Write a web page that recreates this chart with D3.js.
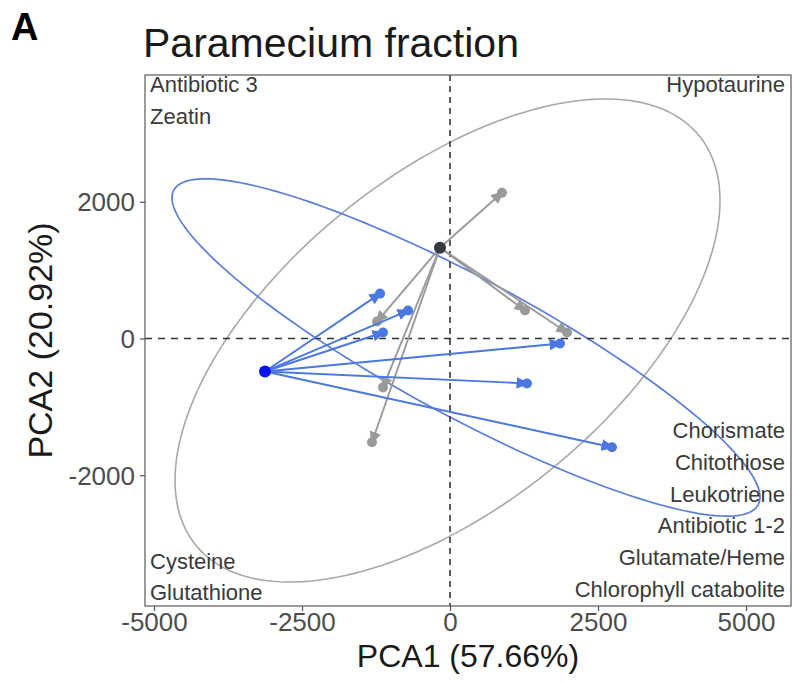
<!DOCTYPE html>
<html>
<head>
<meta charset="utf-8">
<script src="https://cdn.jsdelivr.net/npm/d3@7"></script>
<style>
  body { margin: 0; background: #fff; }
  svg { display: block; font-family: "Liberation Sans", Arial, sans-serif; }
</style>
</head>
<body>
<svg id="chart" width="792" height="682"></svg>
<script>
// ---- data ----
const xTicks = [-5000, -2500, 0, 2500, 5000];
const yTicks = [-2000, 0, 2000];

// arrow origins (group centroids) and arrow tips
const grayOrigin = { x: -169, y: 1328 };
const grayTips = [
  { x: 878,   y: 2131 },
  { x: 1267,  y: 409 },
  { x: 1976,  y: 88 },
  { x: -1233, y: 248 },
  { x: -1132, y: -715 },
  { x: -1318, y: -1518 }
];
const blueOrigin = { x: -3125, y: -482 };
const blueTips = [
  { x: -1182, y: 657 },
  { x: -709,  y: 409 },
  { x: -1132, y: 88 },
  { x: 1858,  y: -73 },
  { x: 1300,  y: -657 },
  { x: 2736,  y: -1591 }
];

// confidence ellipses: centre, x half-range, y half-range, phase (deg)
const grayEllipse = { cx: -42, cy: -29, rx: 4603, ry: 3533, phase: 54.6 };
const blueEllipse = { cx: 270, cy: -131, rx: 4966, ry: 2467, phase: 152.5 };

// corner annotations
const labelsTopLeft     = ['Antibiotic 3', 'Zeatin'];
const labelsTopRight    = ['Hypotaurine'];
const labelsBottomLeft  = ['Cysteine', 'Glutathione'];
const labelsBottomRight = ['Chorismate', 'Chitothiose', 'Leukotriene',
                           'Antibiotic 1-2', 'Glutamate/Heme', 'Chlorophyll catabolite'];

// ---- layout ----
const margin = { top: 75, right: 1, bottom: 76, left: 145 };
const width = 792, height = 682;
const w = width - margin.left - margin.right;
const h = height - margin.top - margin.bottom;

const svg = d3.select('#chart');

const x = d3.scaleLinear().domain([-5152, 5760]).range([0, w]);
const y = d3.scaleLinear().domain([-3912, 3854]).range([h, 0]);

const g = svg.append('g').attr('transform', `translate(${margin.left},${margin.top})`);

g.append('defs').append('clipPath').attr('id', 'clip')
  .append('rect').attr('width', w).attr('height', h);

// arrow markers
const defs = svg.append('defs');
function marker(id, color) {
  defs.append('marker')
    .attr('id', id)
    .attr('viewBox', '0 -5 10 10')
    .attr('refX', 8).attr('refY', 0)
    .attr('markerWidth', 13).attr('markerHeight', 13)
    .attr('markerUnits', 'userSpaceOnUse')
    .attr('orient', 'auto')
    .append('path').attr('d', 'M0,-4.5L10,0L0,4.5Z').attr('fill', color);
}
marker('head-gray', '#9a9a9a');
marker('head-blue', '#4a77e0');

const plot = g.append('g').attr('clip-path', 'url(#clip)');

// ellipses
function ellipsePoints(e) {
  const ph = e.phase * Math.PI / 180;
  return d3.range(0, 361, 2).map(a => {
    const t = a * Math.PI / 180;
    return [e.cx + e.rx * Math.cos(t), e.cy + e.ry * Math.cos(t - ph)];
  });
}
const line = d3.line().x(d => x(d[0])).y(d => y(d[1])).curve(d3.curveLinearClosed);

plot.append('path')
  .attr('d', line(ellipsePoints(grayEllipse)))
  .attr('fill', 'none').attr('stroke', '#a8a8a8').attr('stroke-width', 1.6);
plot.append('path')
  .attr('d', line(ellipsePoints(blueEllipse)))
  .attr('fill', 'none').attr('stroke', '#5a7ed8').attr('stroke-width', 1.7);

// reference lines
plot.append('line')
  .attr('x1', 0).attr('x2', w).attr('y1', y(0)).attr('y2', y(0))
  .attr('stroke', '#333').attr('stroke-width', 1.6).attr('stroke-dasharray', '7,6');
plot.append('line')
  .attr('x1', x(0)).attr('x2', x(0)).attr('y1', 0).attr('y2', h)
  .attr('stroke', '#333').attr('stroke-width', 1.6).attr('stroke-dasharray', '6,5');

// arrows
function arrows(origin, tips, color, head) {
  plot.append('g').selectAll('line')
    .data(tips)
    .join('line')
    .attr('x1', x(origin.x)).attr('y1', y(origin.y))
    .attr('x2', d => x(d.x)).attr('y2', d => y(d.y))
    .attr('stroke', color).attr('stroke-width', 1.9)
    .attr('marker-end', `url(#${head})`);
  plot.append('g').selectAll('circle')
    .data(tips)
    .join('circle')
    .attr('cx', d => x(d.x)).attr('cy', d => y(d.y))
    .attr('r', 5).attr('fill', color);
}
arrows(grayOrigin, grayTips, '#9a9a9a', 'head-gray');
arrows(blueOrigin, blueTips, '#4a77e0', 'head-blue');

plot.append('circle')
  .attr('cx', x(grayOrigin.x)).attr('cy', y(grayOrigin.y))
  .attr('r', 6).attr('fill', '#333a40');
plot.append('circle')
  .attr('cx', x(blueOrigin.x)).attr('cy', y(blueOrigin.y))
  .attr('r', 6).attr('fill', '#0a14e6');

// panel border
g.append('rect')
  .attr('width', w).attr('height', h)
  .attr('fill', 'none').attr('stroke', '#666').attr('stroke-width', 1.3);

// axes
const xAxis = g.append('g').attr('transform', `translate(0,${h})`)
  .call(d3.axisBottom(x).tickValues(xTicks).tickSize(5).tickPadding(2).tickFormat(d => String(d)));
const yAxis = g.append('g')
  .call(d3.axisLeft(y).tickValues(yTicks).tickSize(5).tickPadding(5).tickFormat(d => String(d)));
[xAxis, yAxis].forEach(a => {
  a.select('.domain').remove();
  a.selectAll('line').attr('stroke', '#555').attr('stroke-width', 1.2);
  a.selectAll('text')
    .attr('fill', '#4d4d4d')
    .style('font-size', '26px')
    .style('font-family', '"Liberation Sans", Arial, sans-serif');
});
yAxis.selectAll('text').attr('dy', '0.35em');

// axis titles
g.append('text')
  .attr('x', w / 2).attr('y', h + 61)
  .attr('text-anchor', 'middle')
  .attr('fill', '#1a1a1a').style('font-size', '32px')
  .text('PCA1 (57.66%)');
g.append('text')
  .attr('transform', 'rotate(-90)')
  .attr('x', -h / 2).attr('y', -93)
  .attr('text-anchor', 'middle')
  .attr('fill', '#1a1a1a').style('font-size', '34px')
  .text('PCA2 (20.92%)');

// title + panel tag
svg.append('text')
  .attr('x', 143).attr('y', 57)
  .attr('fill', '#1a1a1a').style('font-size', '41px')
  .text('Paramecium fraction');
svg.append('text')
  .attr('x', 11).attr('y', 40)
  .attr('fill', '#000').style('font-size', '38px').style('font-weight', 'bold')
  .text('A');

// corner annotations
function corner(list, xPos, anchor, y0, step) {
  g.append('g').selectAll('text')
    .data(list)
    .join('text')
    .attr('x', xPos).attr('y', (d, i) => y0 + i * step)
    .attr('text-anchor', anchor)
    .attr('fill', '#3a3a3a').style('font-size', '22px')
    .text(d => d);
}
corner(labelsTopLeft, 5, 'start', 17, 32);
corner(labelsTopRight, w - 6, 'end', 17, 32);
corner(labelsBottomLeft, 5, 'start', 494, 31);
corner(labelsBottomRight, w - 6, 'end', 363, 31.8);
</script>
</body>
</html>
